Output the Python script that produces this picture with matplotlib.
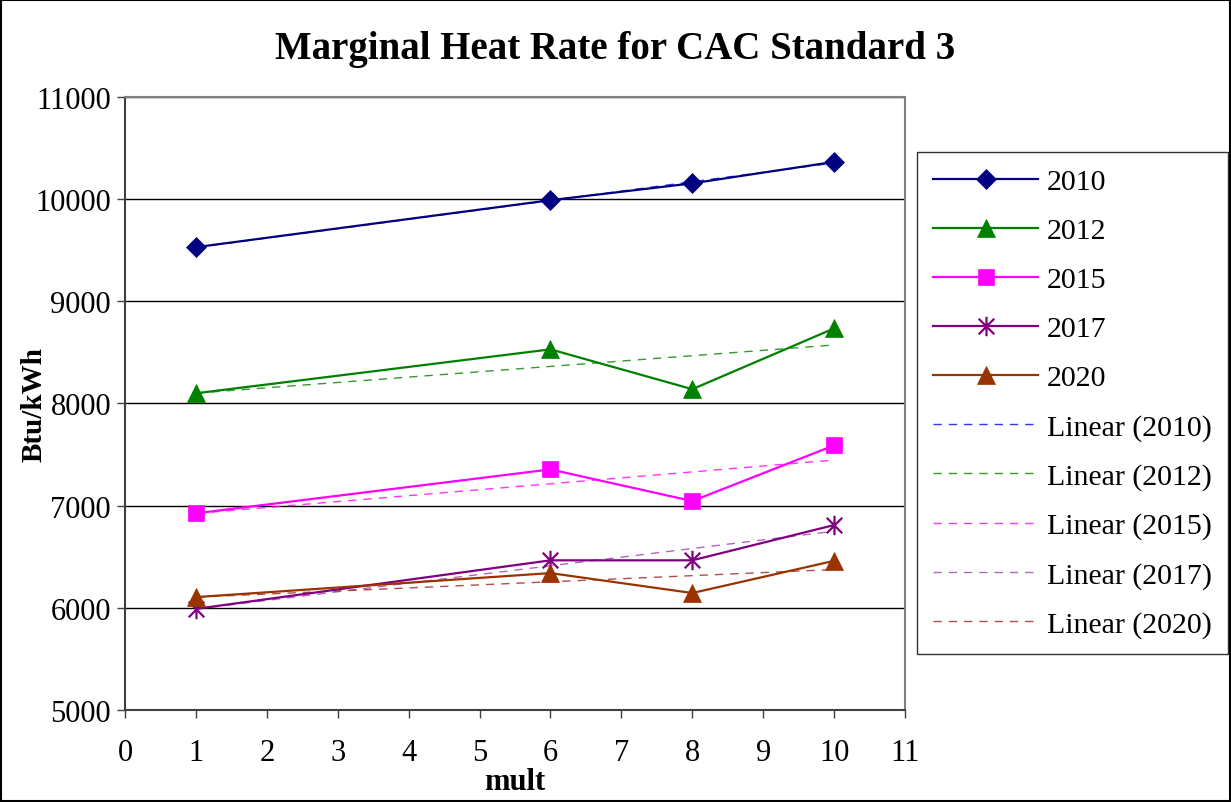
import numpy as np
import matplotlib.pyplot as plt
from matplotlib.path import Path

plt.rcParams['font.family'] = ['Liberation Serif', 'DejaVu Serif']

mult = [1, 6, 8, 10]
years = ['2010', '2012', '2015', '2017', '2020']
hr_2010 = [9530, 9990, 10155, 10365]
hr_2012 = [8100, 8530, 8140, 8735]
hr_2015 = [6925, 7355, 7045, 7590]
hr_2017 = [5990, 6465, 6465, 6810]
hr_2020 = [6105, 6340, 6145, 6460]

# excel style star: vertical bar plus an x
star = Path([(0, -1), (0, 1), (-0.8, -0.8), (0.8, 0.8), (-0.8, 0.8), (0.8, -0.8)],
            [Path.MOVETO, Path.LINETO, Path.MOVETO, Path.LINETO, Path.MOVETO, Path.LINETO])

series = [
    (hr_2010, '#000080', 'D', 10, '#0000ff'),
    (hr_2012, '#008000', '^', 13, '#008000'),
    (hr_2015, '#ff00ff', 's', 11, '#ff00ff'),
    (hr_2017, '#800080', star, 14, '#a040b0'),
    (hr_2020, '#993300', '^', 13, '#a02020'),
]

fig = plt.figure(figsize=(12.31, 8.03), dpi=100)
ax = fig.add_axes([125 / 1231, 1 - 711 / 803, 780 / 1231, 613 / 803])

handles = []
for (vals, col, mk, ms, tcol), yr in zip(series, years):
    h, = ax.plot(mult, vals, color=col, lw=1.6, marker=mk, markersize=ms,
                 markeredgewidth=1.6 if mk is star else 0.5, markeredgecolor=col,
                 markerfacecolor=col, label=yr, zorder=3)
    handles.append(h)

trend_handles = []
for (vals, col, mk, ms, tcol), yr in zip(series, years):
    a, b = np.polyfit(mult, vals, 1)
    xs = np.array([mult[0], mult[-1]])
    h, = ax.plot(xs, a * xs + b, color=tcol, lw=1.0, ls=(0, (6, 5)), alpha=0.8,
                 label='Linear (%s)' % yr, zorder=2)
    trend_handles.append(h)

ax.set_xlim(0, 11)
ax.set_ylim(5000, 11000)
ax.set_xticks(range(0, 12))
ax.set_yticks(range(5000, 11001, 1000))
ax.yaxis.grid(True, color='black', lw=1)
ax.set_axisbelow(True)
ax.tick_params(axis='both', labelsize=22, length=6, width=1, direction='out', color='#404040')
ax.tick_params(axis='x', pad=14)
ax.tick_params(axis='y', pad=4)
for s in ['top', 'right']:
    ax.spines[s].set_color('#808080')
    ax.spines[s].set_linewidth(1.5)
for s in ['left', 'bottom']:
    ax.spines[s].set_color('#404040')
    ax.spines[s].set_linewidth(1.5)

ax.set_xlabel('mult', fontsize=22, fontweight='bold', labelpad=0)
ax.set_ylabel('Btu/kWh', fontsize=21, fontweight='bold')
ax.yaxis.set_label_coords(-0.099, 0.5)
fig.text(615 / 1231, 1 - 49 / 803, 'Marginal Heat Rate for CAC Standard 3',
         fontsize=28, fontweight='bold', ha='center', va='center')

leg = fig.legend(handles + trend_handles, [h.get_label() for h in handles + trend_handles],
                 loc='upper left', bbox_to_anchor=(917 / 1231, 1 - 153 / 803),
                 fontsize=21.5, frameon=True, fancybox=False, edgecolor='black',
                 handlelength=3.5, labelspacing=0.74, borderpad=0.55, handletextpad=0.3,
                 borderaxespad=0)
leg.get_frame().set_linewidth(1.0)

fig.patches.append(plt.Rectangle((0.001, 0.001), 0.998, 0.998, transform=fig.transFigure,
                                 fill=False, edgecolor='black', lw=1.5))

fig.savefig('out.png', dpi=100)
